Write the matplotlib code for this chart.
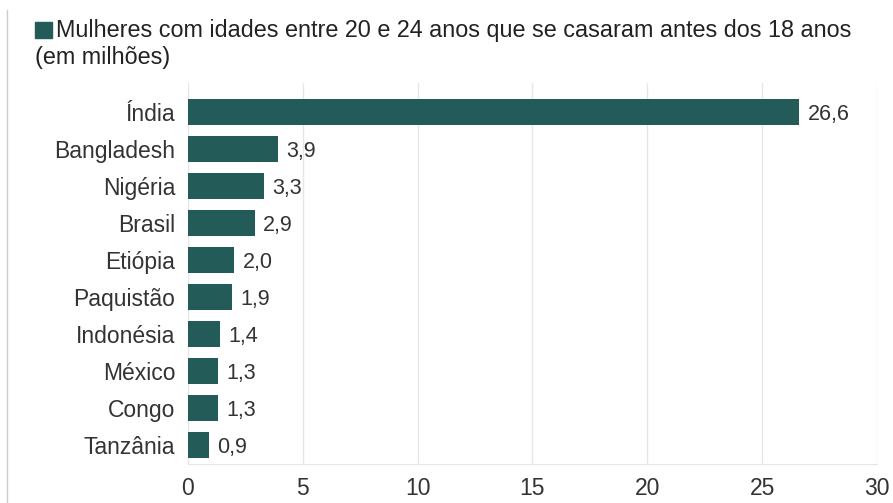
import matplotlib
matplotlib.use("Agg")
from matplotlib import pyplot as plt
from matplotlib.patches import Rectangle

# Child marriage counts by country (millions)
countries = ["Índia", "Bangladesh", "Nigéria", "Brasil", "Etiópia",
             "Paquistão", "Indonésia", "México", "Congo", "Tanzânia"]
values = [26.6, 3.9, 3.3, 2.9, 2.0, 1.9, 1.4, 1.3, 1.3, 0.9]
xticks = [0, 5, 10, 15, 20, 25, 30]

plt.rcParams['font.family'] = ['Liberation Sans', 'DejaVu Sans']

bar_color = "#235b59"
text_color = "#333333"

fig = plt.figure(figsize=(8.93, 5.03), dpi=100)
ax = fig.add_axes([0.2105, 0.077, 0.7715, 0.758])

ypos = list(range(len(countries)))
ax.barh(ypos, values, height=0.7, color=bar_color)
for y, v in zip(ypos, values):
    ax.text(v + 0.38, y, f"{v:.1f}".replace(".", ","), va="center_baseline", ha="left",
            fontsize=15.5, color=text_color)

ax.set_yticks(ypos)
ax.set_yticklabels(countries, fontsize=16.5, color=text_color)
ax.set_ylim(9.52, -0.78)
ax.set_xlim(0, 30)
ax.set_xticks(xticks)
ax.set_xticklabels([str(t) for t in xticks], fontsize=16.5, color=text_color)
ax.tick_params(axis="both", length=0)
ax.tick_params(axis="y", pad=9)
ax.tick_params(axis="x", pad=9)
ax.grid(axis="x", color="#e6e6e6", linewidth=1)
ax.set_axisbelow(True)
for side in ["top", "right", "left"]:
    ax.spines[side].set_visible(False)
ax.spines["bottom"].set_color("#e6e6e6")

# legend-style title with a square swatch
fig.patches.append(Rectangle((0.039, 0.925), 0.019, 0.032, transform=fig.transFigure,
                             color=bar_color))
fig.text(0.063, 0.94, "Mulheres com idades entre 20 e 24 anos que se casaram antes dos 18 anos",
         fontsize=16.8, color="#222222", va="center")
fig.text(0.039, 0.886, "(em milhões)", fontsize=16.8, color="#222222", va="center")

# thin frame line at the left edge
fig.add_artist(plt.Line2D([0.008, 0.008], [0.0, 0.98], transform=fig.transFigure,
                          color="#cccccc", linewidth=1))

fig.savefig("out.png", dpi=100)
